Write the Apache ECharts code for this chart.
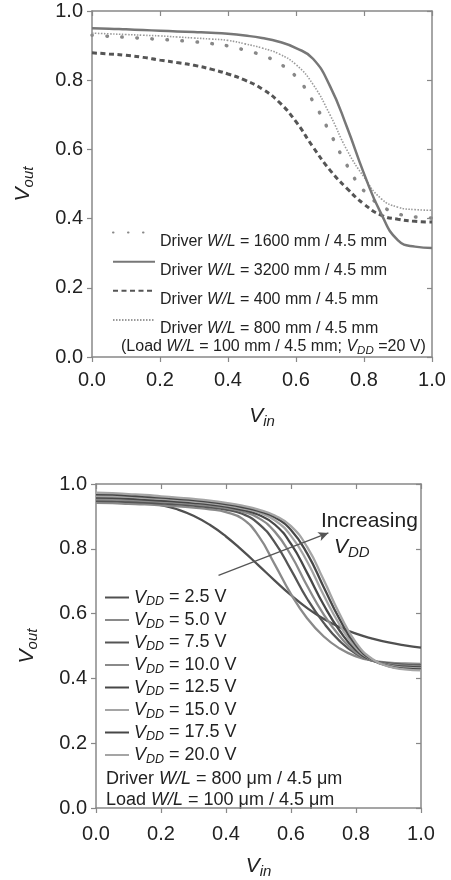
<!DOCTYPE html>
<html><head><meta charset="utf-8">
<script src="https://cdn.jsdelivr.net/npm/echarts@6/dist/echarts.min.js"></script>
<style>html,body{margin:0;padding:0;background:#fff}#c{width:451px;height:880px}</style>
</head><body><div id="c"></div>
<script>
const vin = [0,0.05,0.1,0.15,0.2,0.25,0.3,0.35,0.4,0.45,0.5,0.55,0.6,0.65,0.7,0.75,0.8,0.85,0.9,0.95,1.0];
const tickLabels = ['0.0','0.2','0.4','0.6','0.8','1.0'];

// Top chart: driver W/L variations
const topNames = ['1600','3200','400','800'];
const wl1600 = [0.930,0.927,0.924,0.921,0.918,0.915,0.911,0.906,0.899,0.887,0.872,0.849,0.810,0.739,0.648,0.554,0.480,0.438,0.414,0.405,0.402];
const wl3200 = [0.950,0.949,0.947,0.945,0.943,0.941,0.939,0.937,0.934,0.929,0.922,0.911,0.893,0.862,0.783,0.664,0.530,0.415,0.337,0.319,0.315];
const wl400  = [0.879,0.876,0.872,0.866,0.858,0.851,0.843,0.832,0.818,0.800,0.775,0.737,0.680,0.607,0.540,0.487,0.442,0.410,0.398,0.392,0.390];
const wl800  = [0.936,0.934,0.932,0.930,0.928,0.925,0.922,0.919,0.915,0.905,0.893,0.876,0.845,0.788,0.700,0.598,0.520,0.458,0.433,0.426,0.424];

// Bottom chart: VDD variations
const vddNames = ['2.5','5.0','7.5','10.0','12.5','15.0','17.5','20.0'];
const vdd2_5  = [0.950,0.949,0.946,0.942,0.935,0.922,0.902,0.874,0.838,0.795,0.749,0.702,0.657,0.617,0.584,0.558,0.538,0.523,0.511,0.502,0.495];
const vdd5_0  = [0.942,0.941,0.939,0.937,0.934,0.931,0.927,0.922,0.913,0.893,0.840,0.752,0.660,0.585,0.530,0.492,0.468,0.455,0.449,0.446,0.445];
const vdd7_5  = [0.948,0.947,0.945,0.943,0.940,0.937,0.933,0.928,0.921,0.908,0.878,0.820,0.735,0.645,0.572,0.515,0.476,0.455,0.446,0.442,0.440];
const vdd10_0 = [0.953,0.952,0.950,0.948,0.945,0.942,0.938,0.933,0.926,0.915,0.895,0.853,0.780,0.685,0.598,0.530,0.480,0.455,0.444,0.439,0.437];
const vdd12_5 = [0.958,0.957,0.955,0.952,0.949,0.946,0.942,0.937,0.930,0.920,0.905,0.875,0.815,0.725,0.628,0.547,0.487,0.456,0.442,0.436,0.434];
const vdd15_0 = [0.963,0.962,0.960,0.957,0.954,0.950,0.946,0.941,0.934,0.925,0.912,0.888,0.840,0.760,0.658,0.565,0.494,0.457,0.440,0.433,0.431];
const vdd17_5 = [0.968,0.967,0.964,0.961,0.958,0.954,0.950,0.945,0.938,0.929,0.917,0.897,0.858,0.785,0.683,0.582,0.502,0.458,0.438,0.430,0.428];
const vdd20_0 = [0.973,0.972,0.969,0.966,0.962,0.958,0.954,0.949,0.942,0.933,0.921,0.903,0.870,0.805,0.705,0.598,0.510,0.460,0.437,0.428,0.425];
const vddValues = [vdd2_5,vdd5_0,vdd7_5,vdd10_0,vdd12_5,vdd15_0,vdd17_5,vdd20_0];
const vddColors = ['#505050','#8a8a8a','#555','#8a8a8a','#474747','#a5a5a5','#474747','#a5a5a5'];

const arrowFrom = [0.377, 0.718];
const arrowTo = [0.715, 0.849];

const F = '"Liberation Sans", Arial, Helvetica, sans-serif';
const C = '#222';
const pair = a => vin.map((x,i)=>[x,a[i]]);

const richTop = {
  n:{fontSize:16,fontFamily:F,color:C,lineHeight:18},
  i:{fontSize:16,fontFamily:F,color:C,fontStyle:'italic',lineHeight:18}
};
const richBot = {
  v:{fontSize:18,fontFamily:F,color:C,fontStyle:'italic',lineHeight:22},
  s:{fontSize:12.5,fontFamily:F,color:C,fontStyle:'italic',lineHeight:12,verticalAlign:'bottom'},
  n:{fontSize:18,fontFamily:F,color:C,lineHeight:22},
  i:{fontSize:18,fontFamily:F,color:C,fontStyle:'italic',lineHeight:22}
};
const richName = {
  v:{fontSize:21,fontFamily:F,color:C,fontStyle:'italic',lineHeight:26},
  s:{fontSize:15,fontFamily:F,color:C,fontStyle:'italic',lineHeight:14,verticalAlign:'bottom'}
};

function axisPair(gridIndex, isX, labelMargin, nameGap) {
  const base = {
    type:'value', min:0, max:1, interval:0.2, gridIndex,
    splitLine:{show:false},
    axisLine:{show:true,onZero:false,lineStyle:{color:'#888',width:1.5}}
  };
  const main = Object.assign({}, base, {
    position: isX ? 'bottom' : 'left',
    axisTick:{show:true,inside:false,length:5,lineStyle:{color:'#888',width:1.2}},
    axisLabel:{show:true,fontSize:20,fontFamily:F,color:C,margin:labelMargin,
      formatter:v=>tickLabels[Math.round(v/0.2)]},
    name: isX ? '{v|V}{s|in}' : '{v|V}{s|out}',
    nameLocation:'middle',
    nameGap: nameGap,
    nameRotate: isX ? 0 : 90,
    nameTextStyle:{rich:richName}
  });
  const sec = Object.assign({}, base, {
    position: isX ? 'top' : 'right',
    axisTick:{show:true,inside:true,length:5,lineStyle:{color:'#888',width:1.2}},
    axisLabel:{show:false}
  });
  return [main, sec];
}

const xAxes = [...axisPair(0,true,13,46), ...axisPair(1,true,16,45)];
const yAxes = [...axisPair(0,false,9,56), ...axisPair(1,false,9,56)];

const topLabel = n => 'Driver W/L = ' + n + ' mm / 4.5 mm';
const vddLabel = n => 'VDD = ' + n + ' V';

const topStyles = {
  '1600': {color:'#888', width:3.5, type:[0.5,14.5], cap:'round'},
  '3200': {color:'#777', width:2.5, type:'solid'},
  '400':  {color:'#555', width:3, type:[5,3.5]},
  '800':  {color:'#9a9a9a', width:1.6, type:[1.5,1.5]}
};
const topData = {'1600':wl1600,'3200':wl3200,'400':wl400,'800':wl800};

const series = [];
topNames.forEach(n => {
  const st = topStyles[n];
  series.push({
    name: topLabel(n), type:'line', xAxisIndex:0, yAxisIndex:0,
    data: pair(topData[n]), showSymbol:false, symbol:'none',
    smooth:0.5, z: n==='3200'?3:2,
    lineStyle:{color:st.color,width:st.width,type:st.type,cap:st.cap||'butt'},
    itemStyle:{color:st.color}
  });
});
vddNames.forEach((n,k) => {
  const s = {
    name: vddLabel(n), type:'line', xAxisIndex:2, yAxisIndex:2,
    data: pair(vddValues[k]), showSymbol:false, symbol:'none',
    smooth:0.5,
    lineStyle:{color:vddColors[k],width:2.3},
    itemStyle:{color:vddColors[k]}
  };
  if (k === 0) {
    s.markLine = {
      silent:true, symbol:['none','arrow'], symbolSize:[7,10],
      label:{show:false},
      lineStyle:{color:'#555',width:1.2,type:'solid'},
      data:[[{coord:arrowFrom},{coord:arrowTo}]]
    };
  }
  series.push(s);
});

const hiddenSymbol = {color:'rgba(0,0,0,0)', borderWidth:0, opacity:0};

const option = {
  animation:false,
  backgroundColor:'#fff',
  grid:[
    {left:92, top:11, width:340, height:346},
    {left:96, top:484, width:325, height:331}
  ],
  xAxis: xAxes,
  yAxis: yAxes,
  legend:[
    {
      data: topNames.map(topLabel),
      orient:'vertical', left:112, top:227, padding:0,
      itemWidth:42, itemHeight:14, itemGap:6.5,
      selectedMode:false, itemStyle:hiddenSymbol,
      textStyle:{fontSize:16,fontFamily:F,color:C,padding:[18,0,0,0],rich:richTop},
      formatter: name => {
        const num = name.replace('Driver W/L = ','');
        return '{n|Driver }{i|W/L}{n| = ' + num + '}';
      }
    },
    {
      data: vddNames.map(vddLabel),
      orient:'vertical', left:104, top:588.5, padding:0,
      itemWidth:24, itemHeight:10, itemGap:2.5,
      selectedMode:false, itemStyle:hiddenSymbol,
      textStyle:{fontSize:18,fontFamily:F,color:C,rich:richBot},
      formatter: name => '{v|V}{s|DD}{n| = ' + name.replace('VDD = ','') + '}'
    }
  ],
  graphic:[
    {type:'text', left:121, top:339, style:{
      text:'{n|(Load }{i|W/L}{n| = 100 mm / 4.5 mm; }{i|V}{s|DD}{n| =20 V)}',
      rich:{
        n:{fontSize:16,fontFamily:F,fill:C,lineHeight:20},
        i:{fontSize:16,fontFamily:F,fill:C,fontStyle:'italic',lineHeight:20},
        s:{fontSize:11.5,fontFamily:F,fill:C,fontStyle:'italic',lineHeight:11,verticalAlign:'bottom'}
      }}},
    {type:'text', left:106, top:770, style:{
      text:'{n|Driver }{i|W/L}{n| = 800 μm / 4.5 μm}', rich:richBotFill()}},
    {type:'text', left:106, top:791, style:{
      text:'{n|Load }{i|W/L}{n| = 100 μm / 4.5 μm}', rich:richBotFill()}},
    {type:'text', left:321, top:511, style:{
      text:'Increasing', font:'21px ' + F, fill:C}},
    {type:'text', left:334, top:537, style:{
      text:'{v|V}{s|DD}', rich:{
        v:{fontSize:21,fontFamily:F,fill:C,fontStyle:'italic',lineHeight:26},
        s:{fontSize:15,fontFamily:F,fill:C,fontStyle:'italic',lineHeight:14,verticalAlign:'bottom'}
      }}}
  ],
  series
};
function richBotFill(){
  return {
    n:{fontSize:18,fontFamily:F,fill:C,lineHeight:22},
    i:{fontSize:18,fontFamily:F,fill:C,fontStyle:'italic',lineHeight:22}
  };
}
const chart = echarts.init(document.getElementById('c'), null, {renderer:'canvas'});
chart.setOption(option);
</script>
</body></html>
